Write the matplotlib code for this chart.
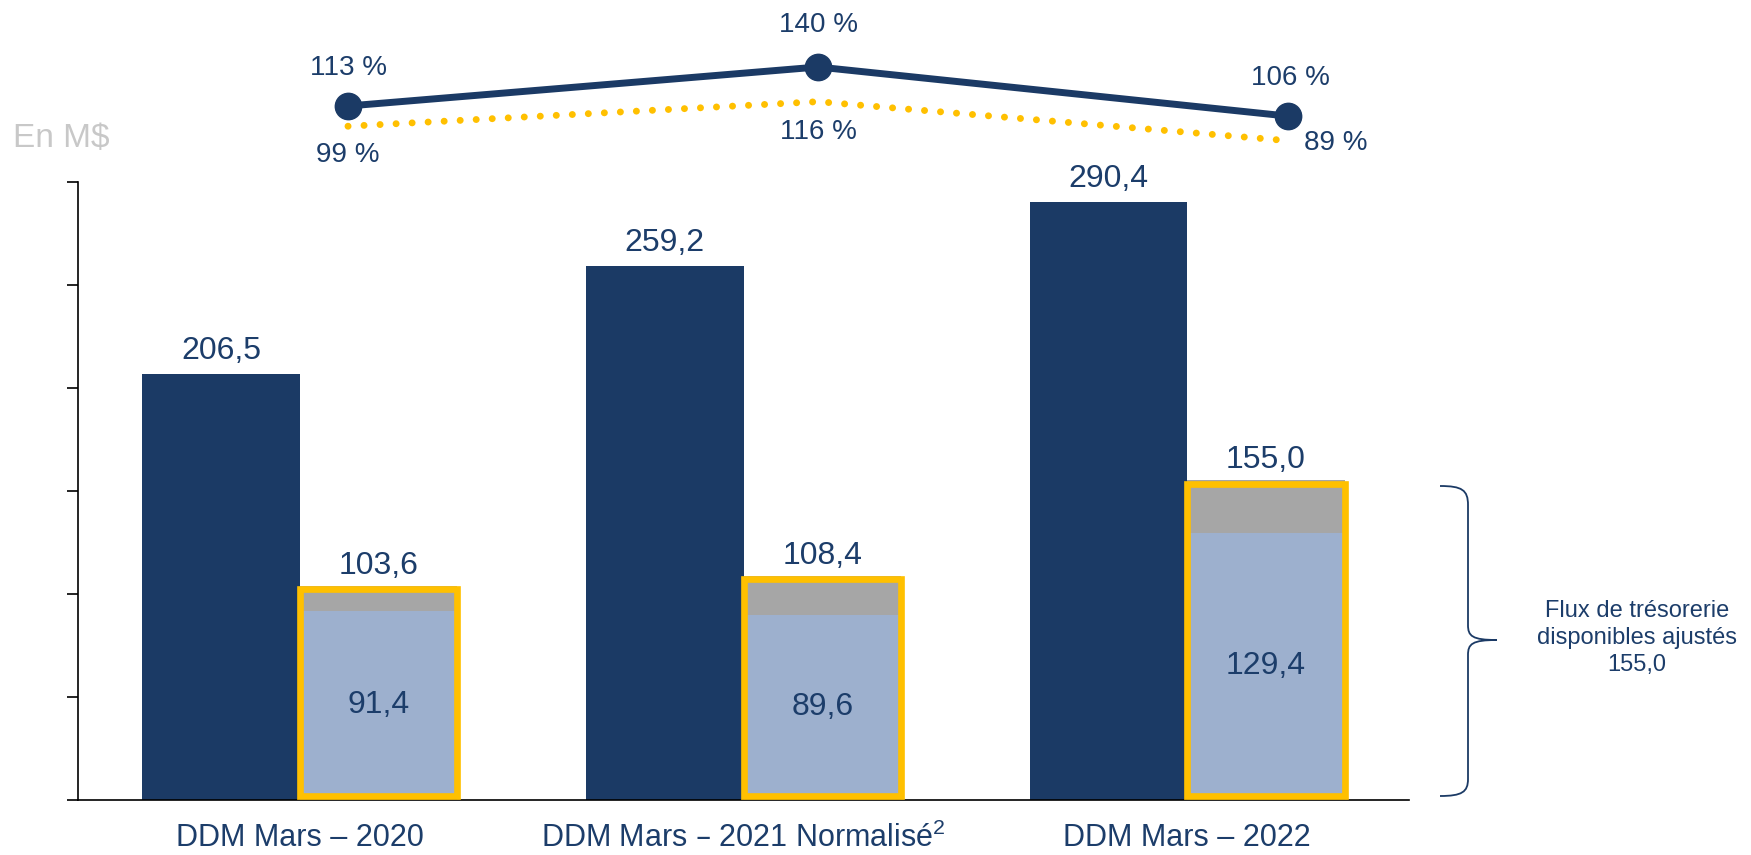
import matplotlib
matplotlib.use("Agg")
import matplotlib.pyplot as plt
from matplotlib.path import Path
from matplotlib.patches import PathPatch

# ---------------- data ----------------
categories = ["DDM Mars – 2020",
              "DDM Mars – 2021 Normalisé$^{\\mathregular{2}}$",
              "DDM Mars – 2022"]
revenue = [206.5, 259.2, 290.4]
fcf_total = [103.6, 108.4, 155.0]
fcf_base = [91.4, 89.6, 129.4]
revenue_labels = ["206,5", "259,2", "290,4"]
fcf_total_labels = ["103,6", "108,4", "155,0"]
fcf_base_labels = ["91,4", "89,6", "129,4"]
conv_solid = [113, 140, 106]
conv_dotted = [99, 116, 89]
conv_solid_labels = ["113 %", "140 %", "106 %"]
conv_dotted_labels = ["99 %", "116 %", "89 %"]
yticks = [0, 50, 100, 150, 200, 250, 300]
unit_label = "En M$"
brace_text = "Flux de trésorerie\ndisponibles ajustés\n155,0"

# ---------------- style ----------------
NAVY = "#1B3A65"
TXT = "#1C3D6A"
LIGHT = "#9DB0CE"
GRAY = "#A6A6A6"
YELLOW = "#FFC000"
FONT = ["Liberation Sans", "DejaVu Sans"]
plt.rcParams["font.family"] = FONT

W, H = 1751, 855
fig = plt.figure(figsize=(W / 100, H / 100), dpi=100)

def fx(x):
    return x / W

def fy(y):
    return 1 - y / H

# main bar axes
ax = fig.add_axes([fx(78), fy(799.5), fx(1409) - fx(78), fy(182) - fy(799.5)])
ax.set_xlim(-0.5, 2.5)
ax.set_ylim(0, 300)
bw = 0.355
xs = list(range(len(categories)))
xd = [x - bw / 2 for x in xs]
xl = [x + bw / 2 for x in xs]

ax.bar(xd, revenue, width=bw, color=NAVY, zorder=2)
ax.bar(xl, fcf_base, width=bw, color=LIGHT, zorder=2)
ax.bar(xl, [t - b for t, b in zip(fcf_total, fcf_base)], bottom=fcf_base,
       width=bw, color=GRAY, zorder=2)
inset = 1.5  # keep the yellow frame inside the bar vertically
ax.bar(xl, [t - 2 * inset for t in fcf_total], bottom=inset, width=bw,
       facecolor="none", edgecolor=YELLOW, linewidth=4.8, zorder=3)

for x, v, s in zip(xd, revenue, revenue_labels):
    ax.annotate(s, (x, v), xytext=(0, 23), textcoords="offset pixels",
                ha="center", va="center", fontsize=23, color=TXT)
for x, v, s in zip(xl, fcf_total, fcf_total_labels):
    ax.annotate(s, (x, v), xytext=(0, 20), textcoords="offset pixels",
                ha="center", va="center", fontsize=23, color=TXT)
for x, v, s in zip(xl, fcf_base, fcf_base_labels):
    ax.text(x, v / 2, s, ha="center", va="center", fontsize=23, color=TXT,
            zorder=4)

for sp in ["top", "right"]:
    ax.spines[sp].set_visible(False)
ax.spines["left"].set_linewidth(1.2)
ax.spines["bottom"].set_linewidth(1.2)
ax.set_yticks(yticks)
ax.set_yticklabels([])
ax.tick_params(axis="y", direction="out", length=8, width=1.2)
ax.set_xticks(xs)
ax.set_xticklabels(categories, fontsize=22, color=TXT)
ax.tick_params(axis="x", length=0, pad=17)

# percentage lines axes
ax2 = fig.add_axes([fx(113), fy(160.9), fx(1523) - fx(113), fy(38.1) - fy(160.9)])
ax2.set_xlim(-0.5, 2.5)
ax2.set_ylim(75, 160)
ax2.axis("off")
ax2.plot(xs, conv_dotted, color=YELLOW, lw=5, linestyle=(0, (0.01, 2.3)),
         dash_capstyle="round", clip_on=False, zorder=2)
ax2.plot(xs, conv_solid, color=NAVY, lw=5, marker="o", ms=19,
         solid_capstyle="round", clip_on=False, zorder=3)

solid_off = [(0, 38), (0, 42), (2, 38)]
dotted_off = [(0, -29), (0, -30), (48, -2)]
for x, v, s, o in zip(xs, conv_solid, conv_solid_labels, solid_off):
    ax2.annotate(s, (x, v), xytext=o, textcoords="offset pixels",
                 ha="center", va="center", fontsize=20, color=TXT)
for x, v, s, o in zip(xs, conv_dotted, conv_dotted_labels, dotted_off):
    ax2.annotate(s, (x, v), xytext=o, textcoords="offset pixels",
                 ha="center", va="center", fontsize=20, color=TXT)

# unit label
fig.text(fx(13), fy(139), unit_label, ha="left", va="center", fontsize=24,
         color="#C8C8C8")

# brace
pts = [(1440, 486), (1462, 486), (1468, 490), (1468, 505),
       (1468, 625),
       (1468, 636), (1472, 640), (1497, 640),
       (1472, 640), (1468, 644), (1468, 655),
       (1468, 779),
       (1468, 792), (1462, 796), (1440, 796)]
codes = [Path.MOVETO, Path.CURVE4, Path.CURVE4, Path.CURVE4,
         Path.LINETO,
         Path.CURVE4, Path.CURVE4, Path.CURVE4,
         Path.CURVE4, Path.CURVE4, Path.CURVE4,
         Path.LINETO,
         Path.CURVE4, Path.CURVE4, Path.CURVE4]
path = Path([(fx(a), fy(b)) for a, b in pts], codes)
fig.add_artist(PathPatch(path, facecolor="none", edgecolor="#1B3A65",
                         lw=1.3, transform=fig.transFigure))

fig.text(fx(1637), fy(638), brace_text, ha="center", va="center",
         fontsize=17, color=TXT, linespacing=1.3)

fig.savefig("out.png", dpi=100, facecolor="white")
